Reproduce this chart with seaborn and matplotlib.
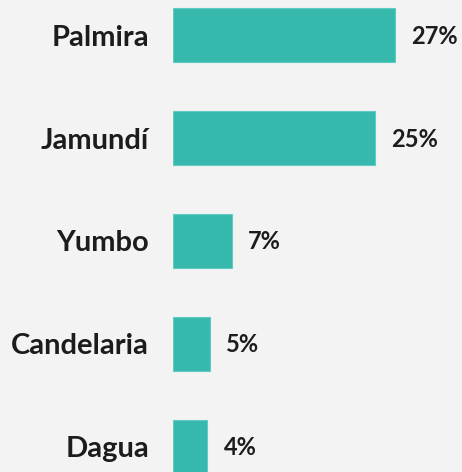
import pandas as pd
import matplotlib.pyplot as plt
import seaborn as sns

# data
municipios = ["Palmira", "Jamundí", "Yumbo", "Candelaria", "Dagua"]
valores = [27.0, 24.6, 7.2, 4.5, 4.2]
etiquetas = ["27%", "25%", "7%", "5%", "4%"]

df = pd.DataFrame({"municipio": municipios, "valor": valores})

bg = "#f3f3f3"
bar_color = "#36b8ac"
text_color = "#1c1c1c"

sns.set_style("white")
plt.rcParams["font.family"] = ["Lato", "DejaVu Sans"]

fig = plt.figure(figsize=(4.62, 4.72), dpi=100, facecolor=bg)
ax = fig.add_axes([173 / 462, 0, 289 / 462, 1])
ax.set_facecolor(bg)

sns.barplot(data=df, x="valor", y="municipio", color=bar_color,
            width=0.524, saturation=1, edgecolor="#62cbc1", linewidth=0.8,
            ax=ax)

ax.set_xlim(0, 289 / 8.21)
ax.set_ylim(4.243, -0.340)

# value labels
for i, (v, lab) in enumerate(zip(valores, etiquetas)):
    ax.annotate(lab, xy=(v, i), xytext=(16, -1), textcoords="offset pixels",
                ha="left", va="center", fontsize=17, fontweight="bold",
                color=text_color)

# category labels
ax.set_yticks(range(len(municipios)))
ax.set_yticklabels(municipios, fontsize=21, fontweight="bold", color=text_color)
ax.tick_params(axis="y", length=0, pad=24 * 72 / 100)
ax.set_xticks([])
ax.set_xlabel("")
ax.set_ylabel("")
sns.despine(ax=ax, left=True, bottom=True)

fig.savefig("out.png", dpi=100, facecolor=bg)
